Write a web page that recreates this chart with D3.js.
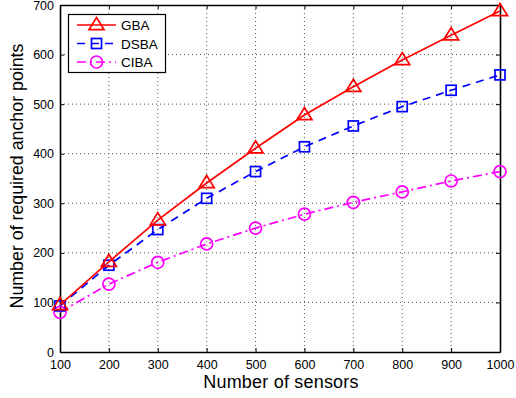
<!DOCTYPE html>
<html>
<head>
<meta charset="utf-8">
<script src="https://cdn.jsdelivr.net/npm/d3@7"></script>
<style>
  html, body { margin: 0; padding: 0; background: #fff; }
  svg { display: block; font-family: "Liberation Sans", Arial, sans-serif; }
</style>
</head>
<body>
<svg id="chart" width="516" height="398"></svg>
<script>
// Number of sensors deployed
const sensors = [100, 200, 300, 400, 500, 600, 700, 800, 900, 1000];
// Required anchor points per algorithm
const gba  = [95, 182, 266, 341, 411, 478, 535, 589, 639, 688];
const dsba = [93, 175, 247, 310, 364, 414, 456, 495, 528, 559];
const ciba = [80, 137, 181, 218, 250, 278, 302, 323, 345, 364];
const seriesNames = ["GBA", "DSBA", "CIBA"];
const xTicks = [100, 200, 300, 400, 500, 600, 700, 800, 900, 1000];
const yTicks = [0, 100, 200, 300, 400, 500, 600, 700];

const svg = d3.select("#chart");
const plotLeft = 60, plotRight = 500, plotTop = 5, plotBottom = 352;

const x = d3.scaleLinear().domain([100, 1000]).range([plotLeft, plotRight]);
const y = d3.scaleLinear().domain([0, 700]).range([plotBottom, plotTop]);

// dotted grid
const grid = svg.append("g").attr("stroke", "#555").attr("stroke-width", 1)
  .attr("stroke-dasharray", "1,3");
xTicks.slice(1, -1).forEach(t => {
  grid.append("line").attr("x1", x(t)).attr("x2", x(t)).attr("y1", plotTop).attr("y2", plotBottom);
});
yTicks.slice(1, -1).forEach(t => {
  grid.append("line").attr("y1", y(t)).attr("y2", y(t)).attr("x1", plotLeft).attr("x2", plotRight);
});

// axes with inward ticks
const fmt = d3.format("d");
const xAxis = svg.append("g").attr("transform", `translate(0,${plotBottom})`)
  .call(d3.axisBottom(x).tickValues(xTicks).tickFormat(fmt)
    .tickSizeInner(-4).tickSizeOuter(0).tickPadding(8));
const yAxis = svg.append("g").attr("transform", `translate(${plotLeft},0)`)
  .call(d3.axisLeft(y).tickValues(yTicks).tickFormat(fmt)
    .tickSizeInner(-4).tickSizeOuter(0).tickPadding(6));
const xTop = svg.append("g").attr("transform", `translate(0,${plotTop})`)
  .call(d3.axisTop(x).tickValues(xTicks).tickSizeInner(-4).tickSizeOuter(0).tickFormat(""));
const yRight = svg.append("g").attr("transform", `translate(${plotRight},0)`)
  .call(d3.axisRight(y).tickValues(yTicks).tickSizeInner(-4).tickSizeOuter(0).tickFormat(""));
[xAxis, yAxis, xTop, yRight].forEach(g => {
  g.select(".domain").attr("stroke", "#000").attr("stroke-width", 1.6);
  g.selectAll(".tick line").attr("stroke", "#000");
  g.selectAll("text").attr("fill", "#000").attr("font-size", 12.5)
    .attr("font-family", "'Liberation Sans', Arial, sans-serif");
});

const line = d3.line().x((d, i) => x(sensors[i])).y(d => y(d));

const styles = [
  { data: gba,  color: "#ff0000", dash: null,        marker: "triangle" },
  { data: dsba, color: "#0000ff", dash: "8,6",       marker: "square" },
  { data: ciba, color: "#ff00ff", dash: "9,4,2,4",   marker: "circle" }
];

function drawMarker(g, type, cx, cy, color) {
  if (type === "triangle") {
    const s = 7.5;
    g.append("path")
      .attr("d", `M${cx},${cy - s}L${cx + s},${cy + s * 0.62}L${cx - s},${cy + s * 0.62}Z`)
      .attr("fill", "none").attr("stroke", color).attr("stroke-width", 1.7);
  } else if (type === "square") {
    g.append("rect").attr("x", cx - 5).attr("y", cy - 5).attr("width", 10).attr("height", 10)
      .attr("fill", "none").attr("stroke", color).attr("stroke-width", 1.7);
  } else {
    g.append("circle").attr("cx", cx).attr("cy", cy).attr("r", 6)
      .attr("fill", "none").attr("stroke", color).attr("stroke-width", 1.7);
  }
}

// draw series back to front so GBA sits on top
styles.slice().reverse().forEach(s => {
  const g = svg.append("g");
  g.append("path").datum(s.data).attr("d", line)
    .attr("fill", "none").attr("stroke", s.color).attr("stroke-width", 1.7)
    .attr("stroke-dasharray", s.dash);
  s.data.forEach((v, i) => drawMarker(g, s.marker, x(sensors[i]), y(v), s.color));
});

// legend
const lg = svg.append("g");
lg.append("rect").attr("x", 68.5).attr("y", 14.5).attr("width", 97).attr("height", 58)
  .attr("fill", "#fff").attr("stroke", "#000").attr("stroke-width", 1.2);
styles.forEach((s, i) => {
  const ly = 25 + i * 18.5;
  lg.append("line").attr("x1", 77).attr("x2", 116).attr("y1", ly).attr("y2", ly)
    .attr("stroke", s.color).attr("stroke-width", 1.7).attr("stroke-dasharray", s.dash);
  drawMarker(lg, s.marker, 96.5, ly, s.color);
  lg.append("text").attr("x", 121).attr("y", ly + 5).attr("font-size", 13.5)
    .attr("fill", "#000").text(seriesNames[i]);
});

// axis titles
svg.append("text").attr("x", 281).attr("y", 388)
  .attr("text-anchor", "middle").attr("font-size", 18).attr("letter-spacing", 0.2)
  .attr("fill", "#000").text("Number of sensors");
svg.append("text").attr("transform", "translate(23,176) rotate(-90)")
  .attr("text-anchor", "middle").attr("font-size", 17.8)
  .attr("fill", "#000").text("Number of required anchor points");
</script>
</body>
</html>
